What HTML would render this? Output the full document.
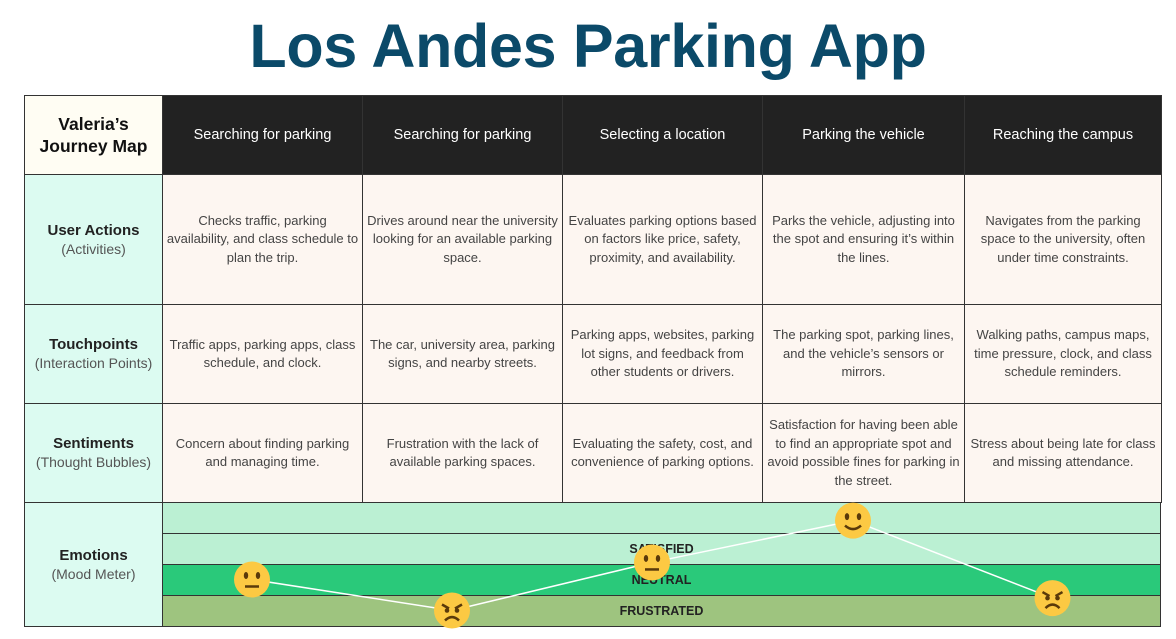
<!DOCTYPE html>
<html><head><meta charset="utf-8"><style>
body{margin:0;width:1176px;height:639px;background:#fff;position:relative;overflow:hidden;font-family:"Liberation Sans",sans-serif}
.c{position:absolute;box-sizing:border-box;border:1px solid #333;display:flex;align-items:center;justify-content:center;text-align:center}
.h{background:#222;color:#fff;font-size:14.5px}
.r{background:#dcfbf1;color:#222;font-size:14px;line-height:18px;flex-direction:column}
.r b{font-size:15px}
.r span{color:#555}
.t{background:#fdf6f1;color:#444;font-size:13px;line-height:18.5px;padding:0 3px}
.band{position:absolute;left:162px;width:999px;box-sizing:border-box;border:1px solid #333;font-weight:bold;font-size:12.5px;color:#222;display:flex;align-items:center;justify-content:center}
</style></head><body>
<div style="position:absolute;left:0;width:1176px;top:11px;text-align:center;font-size:61px;font-weight:bold;color:#0b4a69;letter-spacing:-0.3px">Los Andes Parking App</div>
<div id="grid"></div>
<svg id="mood" width="1176" height="639" style="position:absolute;left:0;top:0"></svg>
<script>
const cols=[24,162,362,562,762,964,1161];
const rows=[95,174,304,403,502];
const headers=["Searching for parking","Searching for parking","Selecting a location","Parking the vehicle","Reaching the campus"];
const rowHeads=[["User Actions","(Activities)"],["Touchpoints","(Interaction Points)"],["Sentiments","(Thought Bubbles)"]];
const cells=[
["Checks traffic, parking availability, and class schedule to plan the trip.","Drives around near the university looking for an available parking space.","Evaluates parking options based on factors like price, safety, proximity, and availability.","Parks the vehicle, adjusting into the spot and ensuring it’s within the lines.","Navigates from the parking space to the university, often under time constraints."],
["Traffic apps, parking apps, class schedule, and clock.","The car, university area, parking signs, and nearby streets.","Parking apps, websites, parking lot signs, and feedback from other students or drivers.","The parking spot, parking lines, and the vehicle’s sensors or mirrors.","Walking paths, campus maps, time pressure, clock, and class schedule reminders."],
["Concern about finding parking and managing time.","Frustration with the lack of available parking spaces.","Evaluating the safety, cost, and convenience of parking options.","Satisfaction for having been able to find an appropriate spot and avoid possible fines for parking in the street.","Stress about being late for class and missing attendance."]];
const g=document.getElementById('grid');
function cell(x1,y1,x2,y2,cls,html,name){const d=document.createElement('div');d.className='c '+cls;d.style.cssText+=`left:${x1}px;top:${y1}px;width:${x2-x1+1}px;height:${y2-y1+1}px`;d.innerHTML=html;


g.appendChild(d);}
cell(24,95,162,174,'', '<b style="font-size:17.5px;line-height:22px;color:#111">Valeria’s<br>Journey Map</b>','journey-map-title');
document.querySelector('.c').style.background='#fffdf3';
headers.forEach((h,i)=>cell(cols[i+1],95,cols[i+2],174,'h',h,'stage-header'));
rowHeads.forEach((r,j)=>{cell(24,rows[j+1],162,rows[j+2],'r',`<b>${r[0]}</b><span>${r[1]}</span>`,'row-header');
cells[j].forEach((t,i)=>cell(cols[i+1],rows[j+1],cols[i+2],rows[j+2],'t',t,'journey-cell'));});
cell(24,502,162,626,'r','<b>Emotions</b><span>(Mood Meter)</span>','row-header-emotions');
const bands=[["",'#bbf0d3'],["SATISFIED",'#bbf0d3'],["NEUTRAL",'#2ac97a'],["FRUSTRATED",'#9ec47f']];
bands.forEach((b,i)=>{const d=document.createElement('div');d.className='band';d.style.top=(502+i*31)+'px';d.style.height='32px';d.style.background=b[1];d.textContent=b[0];


g.appendChild(d);});
// chart data
const stages=["Searching","Searching","Selecting","Parking","Reaching"];
const moodValues=[1.5,0.5,2.05,3.4,0.9];
const moodFaces=["neutral","angry","neutral","happy","angry"];
const xS=i=>(cols[i+1]+cols[i+2])/2-10;
const yS=v=>626-v*31;
const svg=document.getElementById('mood');const NS='http://www.w3.org/2000/svg';
const pl=document.createElementNS(NS,'polyline');
pl.setAttribute('points',moodValues.map((v,i)=>xS(i)+','+yS(v)).join(' '));
pl.setAttribute('fill','none');pl.setAttribute('stroke','#fff');pl.setAttribute('stroke-width','1.5');


svg.appendChild(pl);
moodValues.forEach((v,i)=>{const x=xS(i),y=yS(v);const gg=document.createElementNS(NS,'g');


let s=`<circle cx="${x}" cy="${y}" r="18" fill="#fcc943"/>`;
const f=moodFaces[i];
if(f==='angry'){s+=`<path d="M${x-10} ${y-6} L${x-3} ${y-2} M${x+10} ${y-6} L${x+3} ${y-2}" stroke="#5a3a0a" stroke-width="2.5"/><circle cx="${x-5}" cy="${y}" r="2.3" fill="#5a3a0a"/><circle cx="${x+5}" cy="${y}" r="2.3" fill="#5a3a0a"/><path d="M${x-7} ${y+10} Q${x} ${y+3} ${x+7} ${y+10}" stroke="#5a3a0a" stroke-width="2.5" fill="none"/>`;}
else{s+=`<ellipse cx="${x-6}" cy="${y-4}" rx="2.2" ry="3.5" fill="#5a3a0a"/><ellipse cx="${x+6}" cy="${y-4}" rx="2.2" ry="3.5" fill="#5a3a0a"/>`;
s+= f==='happy'?`<path d="M${x-8} ${y+5} Q${x} ${y+12} ${x+8} ${y+5}" stroke="#5a3a0a" stroke-width="2.5" fill="none"/>`:`<path d="M${x-7} ${y+7} L${x+7} ${y+7}" stroke="#5a3a0a" stroke-width="2.5"/>`;}
gg.innerHTML=s;svg.appendChild(gg);});
</script>
</body></html>
